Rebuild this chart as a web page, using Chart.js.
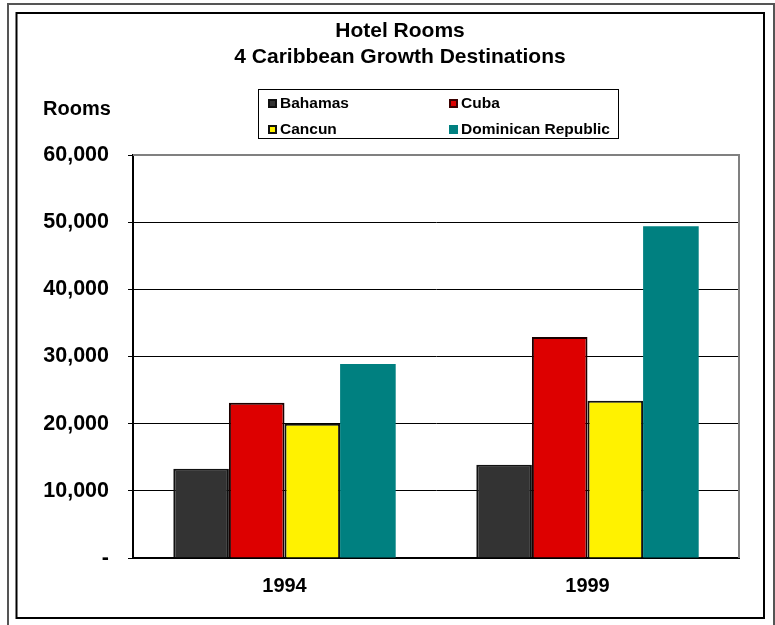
<!DOCTYPE html>
<html>
<head>
<meta charset="utf-8">
<script src="https://cdn.jsdelivr.net/npm/chart.js@4/dist/chart.umd.min.js"></script>
<style>
  html, body { margin: 0; padding: 0; background: #fff; }
  #wrap { position: relative; width: 775px; height: 625px; font-family: 'Liberation Sans', Arial, sans-serif; }
  #c { position: absolute; left: 0; top: 0; }
  #rooms { position: absolute; left: 43px; top: 96px; font-weight: bold; font-size: 20px; line-height: 24px; color: #000; }
  #legend { position: absolute; left: 258px; top: 89px; width: 361px; height: 50px; border: 1px solid #000; background: #fff; box-sizing: border-box; }
  .li { position: absolute; font-weight: bold; font-size: 15.5px; line-height: 18px; color: #000; white-space: nowrap; }
  .mk { position: absolute; width: 9px; height: 9px; box-sizing: border-box; }
</style>
</head>
<body>
<div id="wrap">
  <canvas id="c" width="775" height="625"></canvas>
  <div id="rooms">Rooms</div>
  <div id="legend"></div>
</div>
<script>
const categories = ['1994', '1999'];
const seriesNames = ['Bahamas', 'Cuba', 'Cancun', 'Dominican Republic'];
const bahamas = [13300, 13900];
const cuba = [23100, 32900];
const cancun = [20000, 23400];
const dominican = [28900, 49400];
const yTickLabels = ['-', '10,000', '20,000', '30,000', '40,000', '50,000', '60,000'];

const fills = ['#333333', '#DD0000', '#FFF200', '#008080'];
const borders = ['#111111', '#1a0000', '#111111', '#008080'];
const borderWidths = [2, 2, 2, 0];
const values = [bahamas, cuba, cancun, dominican];

const FONT = "'Liberation Sans', Arial, sans-serif";

// HTML legend built from series names
const legend = document.getElementById('legend');
const legPos = [[9, 4], [190, 4], [9, 30], [190, 30]];
seriesNames.forEach((name, i) => {
  const mk = document.createElement('div');
  mk.className = 'mk';
  mk.style.left = legPos[i][0] + 'px';
  mk.style.top = (legPos[i][1] + 5) + 'px';
  mk.style.background = fills[i];
  mk.style.border = borderWidths[i] ? '2px solid ' + (i === 1 ? '#3a0000' : '#111') : 'none';
  legend.appendChild(mk);
  const t = document.createElement('div');
  t.className = 'li';
  t.style.left = (legPos[i][0] + 12) + 'px';
  t.style.top = legPos[i][1] + 'px';
  t.textContent = name;
  legend.appendChild(t);
});

const framePlugin = {
  id: 'frame',
  afterLayout(chart) {
    // center title over x = 400 like the reference
    if (chart.titleBlock) {
      chart.titleBlock.left = 61;
      chart.titleBlock.right = 739;
    }
  },
  beforeDraw(chart) {
    const ctx = chart.ctx;
    ctx.save();
    ctx.fillStyle = '#fff';
    ctx.fillRect(0, 0, chart.width, chart.height);
    ctx.lineWidth = 2;
    ctx.strokeStyle = '#555';
    ctx.strokeRect(8, 4, 766, 640);
    ctx.strokeStyle = '#000';
    ctx.strokeRect(16.5, 13, 747.5, 605);
    ctx.restore();
  },
  afterDatasetsDraw(chart) {
    const a = chart.chartArea;
    const ctx = chart.ctx;
    ctx.save();
    ctx.strokeStyle = '#808080';
    ctx.lineWidth = 2;
    ctx.beginPath();
    ctx.moveTo(a.left, a.top);
    ctx.lineTo(a.right, a.top);
    ctx.lineTo(a.right, a.bottom);
    ctx.stroke();
    ctx.restore();
  }
};

new Chart(document.getElementById('c'), {
  type: 'bar',
  data: {
    labels: categories,
    datasets: seriesNames.map((name, i) => ({
      label: name,
      data: values[i],
      backgroundColor: fills[i],
      borderColor: borders[i],
      borderWidth: borderWidths[i],
      categoryPercentage: 0.734,
      barPercentage: 1.0
    }))
  },
  options: {
    responsive: false,
    animation: false,
    devicePixelRatio: 1,
    layout: { padding: { left: 0, right: 36, top: 0, bottom: 27 } },
    plugins: {
      legend: { display: false },
      tooltip: { enabled: false },
      title: {
        display: true,
        text: ['Hotel Rooms', '4 Caribbean Growth Destinations'],
        color: '#000',
        font: { family: FONT, size: 21, weight: 'bold', lineHeight: 1.2 },
        padding: { top: 19, bottom: 85.6 }
      }
    },
    scales: {
      x: {
        grid: { display: false, drawTicks: false },
        border: { display: true, color: '#000', width: 2 },
        ticks: { color: '#000', padding: 16, font: { family: FONT, size: 20, weight: 'bold' } },
        afterFit(s) { s.height = 40; }
      },
      y: {
        min: 0, max: 60000,
        ticks: {
          stepSize: 10000,
          color: '#000',
          padding: 19,
          font: { family: FONT, size: 21.5, weight: 'bold' },
          callback: (v, i) => yTickLabels[i]
        },
        grid: {
          color: (ctx) => (ctx.tick && ctx.tick.value === 60000) ? '#808080' : '#000',
          lineWidth: 1,
          tickLength: 5,
          tickColor: '#000'
        },
        border: { display: true, color: '#000', width: 2 },
        afterFit(s) { s.width = 133; }
      }
    }
  },
  plugins: [framePlugin]
});
</script>
</body>
</html>
